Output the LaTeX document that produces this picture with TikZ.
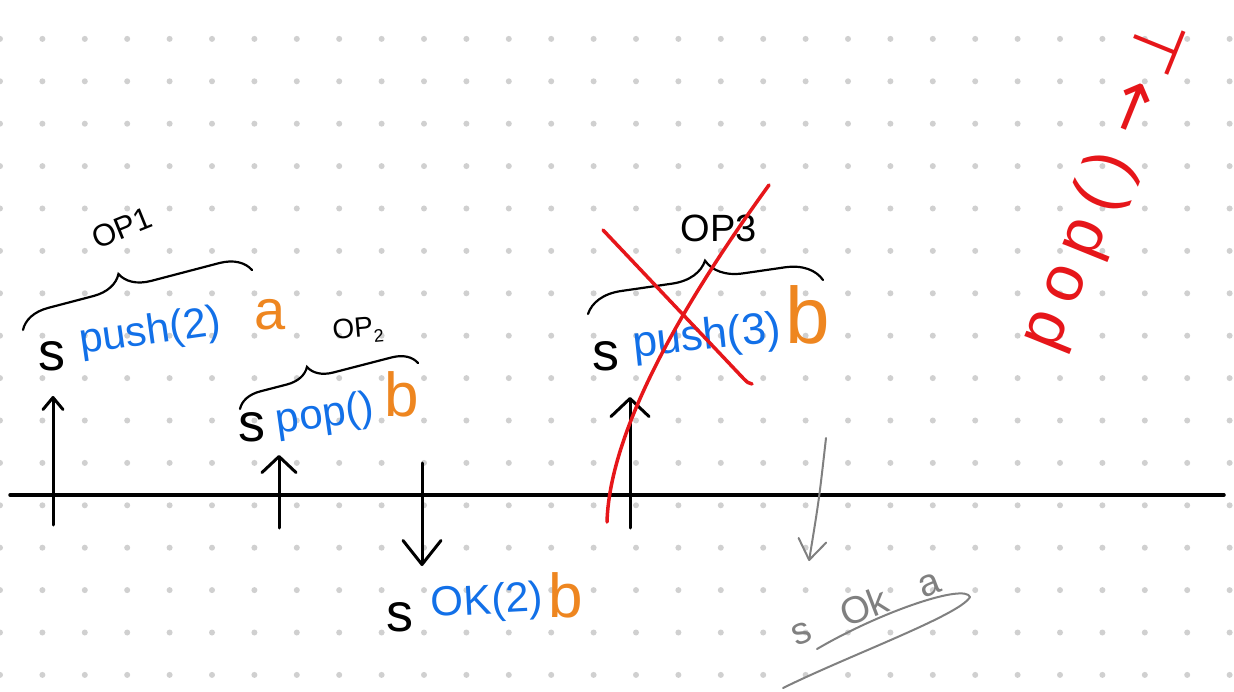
\documentclass[tikz,border=0pt]{standalone}
\usepackage{fontspec}
\setmainfont{Liberation Sans}
\newfontfamily\symfont{DejaVu Sans}
\usetikzlibrary{arrows.meta,decorations.pathreplacing}
\definecolor{opblue}{RGB}{18,112,232}
\definecolor{valorange}{RGB}{238,134,32}
\definecolor{crossred}{RGB}{230,22,26}
\definecolor{pencilgrey}{RGB}{128,128,128}
\definecolor{dotgrey}{RGB}{208,208,208}
\begin{document}
\begin{tikzpicture}[x=1pt,y=-1pt,
  hand/.style={line width=3pt,line cap=round,line join=round},
  call/.style 2 args={hand,-{Straight Barb[length=#1,width=#2,round]}},
  opbrace/.style={decorate,line width=2.2pt,line cap=round},
  proc/.style={inner sep=0pt,font=\fontsize{54}{54}\selectfont},
  opn/.style={inner sep=0pt,text=opblue,font=\fontsize{42}{42}\selectfont},
  val/.style={inner sep=0pt,text=valorange,font=\fontsize{#1}{#1}\selectfont},
  oplabel/.style={inner sep=0pt,font=\fontsize{#1}{#1}\selectfont},
  cross/.style={crossred,line width=3.5pt,line cap=round},
  pencil/.style={pencilgrey,line width=2pt,line cap=round,line join=round}]
\fill[white] (0,0) rectangle (1234,692);
\useasboundingbox (0,0) rectangle (1234,692);
\foreach \i in {0,...,29}
  \foreach \j in {0,...,16}
    \fill[dotgrey] (42.4*\i,-3.5+42.4*\j) circle (3pt);

\coordinate (t0) at (10,495);
\coordinate (t1) at (1224,495);
\draw[hand,line width=3.5pt] (t0) -- (t1);
\foreach \n/\x/\a/\b/\l/\w in {1/53/525/396/12pt/20pt,2/279/528/455/16pt/34pt,3/630/528/397/18pt/38pt}
{
  \coordinate (inv\n) at (\x,\a);
  \coordinate (inv\n tip) at (\x,\b);
  \draw[call={\l}{\w}] (inv\n) -- (inv\n tip);
}
\coordinate (res1) at (422,463);
\coordinate (res1 tip) at (422,566);
\draw[call={24pt}{38pt}] (res1) -- (res1 tip);

\node[proc] (s1) at (52,356) {s};
\node[opn,rotate=8] (push2) at (150,333) {push(2)};
\node[val=56] (a1) at (270,315) {a};
\node[oplabel=31,rotate=22] (op1) at (122,228) {OP1};
\draw[opbrace,decoration={brace,amplitude=30pt,aspect=0.45}] (23,330) -- (252,270);

\node[proc] (s2) at (252,427) {s};
\node[opn,rotate=8] (pop1) at (325,416) {pop()};
\node[val=62] (b1) at (402,394) {b};
\node[oplabel=28,rotate=5] (op2) at (358,331) {OP\raisebox{-.25em}{\fontsize{18}{18}\selectfont 2}};
\draw[opbrace,decoration={brace,amplitude=24pt,aspect=0.41}] (240,409) -- (418,363);

\node[proc] (s3) at (400,617) {s};
\node[opn,rotate=3] (ok1) at (487,603) {OK(2)};
\node[val=62] (b2) at (566,595) {b};

\node[proc] (s4) at (606,356) {s};
\node[opn,font=\fontsize{44}{44}\selectfont,rotate=6] (push3) at (707,338) {push(3)};
\node[val=80] (b3) at (808,315) {b};
\node[oplabel=38] (op3) at (719,228) {OP3};
\draw[opbrace,decoration={brace,amplitude=36pt,aspect=0.52}] (588,314) -- (823,280);

\draw[cross] (603,230) -- (743,378) .. controls (748,383) .. (752,384);
\draw[cross] (769,185) .. controls (700,280) and (610,420) .. (607,522);
\node[text=crossred,inner sep=0pt,rotate=68,font=\fontsize{66}{66}\selectfont\addfontfeature{LetterSpace=20}] (pop2) at (1106,184) {pop()\hspace{.35em}{\symfont →\hspace{.15em}⊥}};

\coordinate (late1) at (826,438);
\coordinate (late1 tip) at (809,561);
\draw[pencil,-{Straight Barb[length=20pt,width=28pt,round]}] (late1) .. controls (819,500) .. (late1 tip);
\node[text=pencilgrey,inner sep=0pt,rotate=21,font=\fontsize{38}{38}\selectfont] (ok2) at (865,606) {s\hspace{.9em}Ok\hspace{.9em}a};
\draw[pencil] (817,649) .. controls (880,612) and (965,583) .. (970,597) .. controls (960,615) and (850,655) .. (783,688);
\end{tikzpicture}
\end{document}
